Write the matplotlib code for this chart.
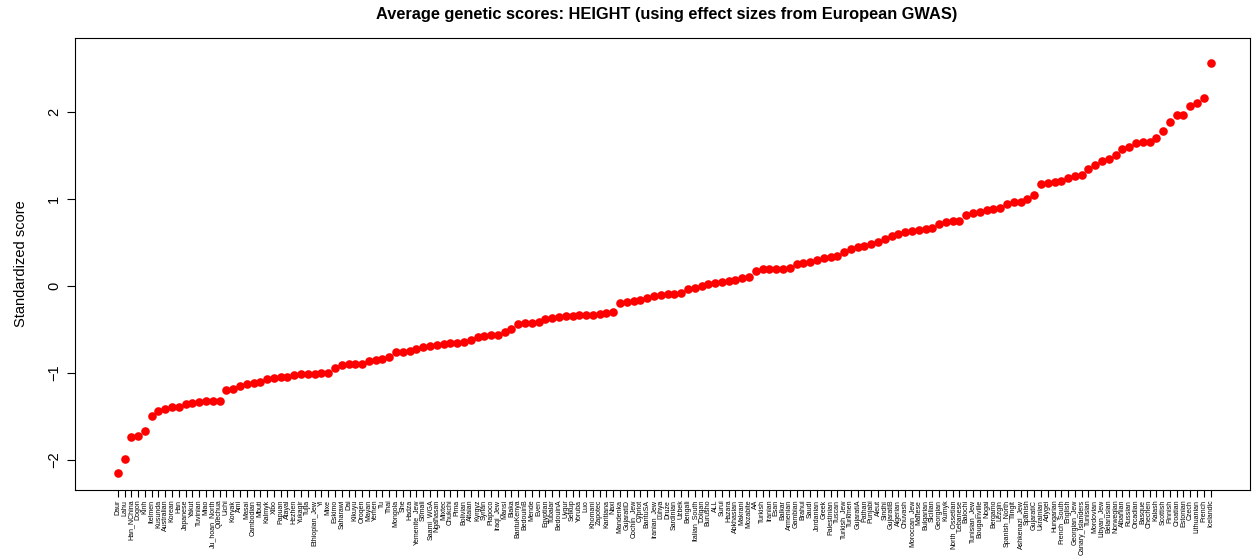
import numpy as np
import matplotlib
matplotlib.use('Agg')
import matplotlib.pyplot as plt

plt.rcParams['font.family'] = ['Liberation Sans', 'DejaVu Sans']

# Populations, sorted by score (left to right)
populations = [
    'Daur', 'Lahu', 'Han_NChina', 'Dogon', 'Kinh', 'Itelmen', 'Kusunda', 'Australian',
    'Korean', 'Han', 'Japanese', 'Yakut', 'Tuvinian', 'Miao', 'Ju_hoan_North', 'Quechua',
    'Ulchi', 'Koryak', 'Ami', 'Masai', 'Cambodian', 'Mbuti', 'Kalmyk', 'Xibo',
    'Papuan', 'Atayal', 'Hezhen', 'Yukagir', 'Tujia', 'Ethiopian_Jew', 'Yi', 'Mixe',
    'Eskimo', 'Saharawi', 'Dai', 'Kikuyu', 'Oroqen', 'Mayan', 'Yemen', 'Tu',
    'Thai', 'Mongola', 'She', 'Hadza', 'Yemenite_Jew', 'Somali', 'Saami_WGA', 'Nganasan',
    'Mixtec', 'Chukchi', 'Pima', 'Bolivian', 'Altaian', 'Kyrgyz', 'Syrian', 'Piapoco',
    'Iraqi_Jew', 'Mansi', 'Biaka', 'BantuKenya', 'BedouinB', 'Mende', 'Even', 'Egyptian',
    'Tubalar', 'BedouinA', 'Uygur', 'Selkup', 'Yoruba', 'Luo', 'Khomani', 'Zapotec',
    'Karitiana', 'Naxi', 'Mandenka', 'GujaratiD', 'Cochin_Jew', 'Cypriot', 'BantuSA', 'Iranian_Jew',
    'Luhya', 'Druze', 'Sardinian', 'Uzbek', 'Bengali', 'Italian_South', 'Dolgan', 'Burusho',
    'ALL', 'Surui', 'Hazara', 'Abkhasian', 'Makrani', 'Mozabite', 'AA', 'Turkish',
    'Iranian', 'Esan', 'Balkar', 'Armenian', 'Gambian', 'Brahui', 'Saudi', 'Jordanian',
    'Greek', 'Palestinian', 'Tuscan', 'Turkish_Jew', 'Turkmen', 'GujaratiA', 'Pathan', 'Punjabi',
    'Aleut', 'Sindhi', 'GujaratiB', 'Algerian', 'Chuvash', 'Moroccan_Jew', 'Maltese', 'Bulgarian',
    'Sicilian', 'Georgian', 'Kumyk', 'North_Ossetian', 'Lebanese', 'Balochi', 'Tunisian_Jew', 'Bougainville',
    'Nogai', 'Bergamo', 'Lezgin', 'Spanish_North', 'Tlingit', 'Ashkenazi_Jew', 'Spanish', 'GujaratiC',
    'Ukrainian', 'Adygei', 'Hungarian', 'French_South', 'English', 'Georgian_Jew', 'Canary_Islanders', 'Tunisian',
    'Mordovian', 'Libyan_Jew', 'Belarusian', 'Norwegian', 'Albanian', 'Russian', 'Orcadian', 'Basque',
    'Chechen', 'Kalash', 'Scottish', 'Finnish', 'Croatian', 'Estonian', 'Czech', 'Lithuanian',
    'French', 'Icelandic',
]

# Standardized genetic height scores
scores = [
    -2.15, -1.99, -1.74, -1.73, -1.67, -1.49, -1.44, -1.41,
    -1.39, -1.39, -1.36, -1.35, -1.33, -1.32, -1.32, -1.32,
    -1.20, -1.18, -1.15, -1.13, -1.12, -1.10, -1.07, -1.06,
    -1.05, -1.05, -1.02, -1.01, -1.01, -1.01, -1.00, -1.00,
    -0.94, -0.91, -0.90, -0.90, -0.90, -0.86, -0.85, -0.84,
    -0.82, -0.76, -0.76, -0.75, -0.73, -0.70, -0.69, -0.68,
    -0.67, -0.66, -0.65, -0.64, -0.62, -0.59, -0.57, -0.56,
    -0.56, -0.53, -0.50, -0.44, -0.43, -0.42, -0.41, -0.38,
    -0.37, -0.36, -0.35, -0.34, -0.33, -0.33, -0.33, -0.32,
    -0.31, -0.30, -0.20, -0.18, -0.17, -0.16, -0.14, -0.11,
    -0.10, -0.09, -0.09, -0.08, -0.03, -0.02, 0.00, 0.02,
    0.03, 0.04, 0.06, 0.07, 0.09, 0.10, 0.17, 0.19,
    0.19, 0.19, 0.20, 0.21, 0.25, 0.26, 0.28, 0.30,
    0.32, 0.33, 0.34, 0.39, 0.42, 0.45, 0.46, 0.48,
    0.51, 0.54, 0.58, 0.60, 0.62, 0.63, 0.64, 0.65,
    0.67, 0.71, 0.74, 0.75, 0.75, 0.82, 0.84, 0.85,
    0.87, 0.89, 0.90, 0.94, 0.96, 0.97, 1.00, 1.05,
    1.17, 1.18, 1.19, 1.21, 1.24, 1.26, 1.27, 1.34,
    1.39, 1.44, 1.46, 1.51, 1.57, 1.60, 1.64, 1.65,
    1.65, 1.70, 1.78, 1.89, 1.96, 1.96, 2.07, 2.10,
    2.16, 2.56,
]

x = np.arange(1, len(scores) + 1)

fig = plt.figure(figsize=(12.56, 5.6), dpi=100)
ax = fig.add_axes([75 / 1256, 70 / 560, 1175 / 1256, 452 / 560])

ax.plot(x, scores, 'o', color='red', markersize=6.2, markeredgewidth=0)

ax.set_xlim(x[0] - 6.3, x[-1] + 5.8)
ax.set_ylim(-2.345, 2.85)

ax.set_xticks(x)
ax.set_xticklabels(populations, rotation=90, fontsize=5.0)
ax.set_yticks([-2, -1, 0, 1, 2])
ax.set_yticklabels(['\u22122', '\u22121', '0', '1', '2'], rotation=90, va='center', fontsize=10.5)
ax.tick_params(axis='x', length=5, width=0.8, pad=2)
ax.tick_params(axis='y', length=6, width=0.8, pad=4)

for s in ax.spines.values():
    s.set_linewidth(0.8)

ax.set_ylabel('Standardized score', fontsize=10.5, labelpad=14)
fig.text(0.531, 0.988, 'Average genetic scores: HEIGHT (using effect sizes from European GWAS)',
         ha='center', va='top', fontsize=11.8, fontweight='bold')

fig.savefig('out.png', dpi=100)
